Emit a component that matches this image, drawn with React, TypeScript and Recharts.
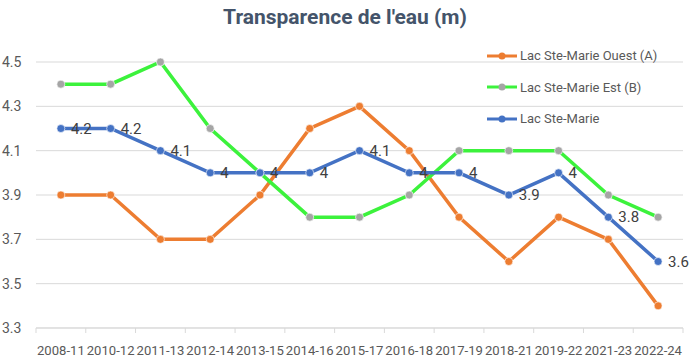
import { LineChart, Line, XAxis, YAxis, CartesianGrid, LabelList } from 'recharts';

const periods = [
	'2008-11', '2010-12', '2011-13', '2012-14', '2013-15', '2014-16', '2015-17',
	'2016-18', '2017-19', '2018-21', '2019-22', '2021-23', '2022-24',
];
const ouestA = [3.9, 3.9, 3.7, 3.7, 3.9, 4.2, 4.3, 4.1, 3.8, 3.6, 3.8, 3.7, 3.4];
const estB = [4.4, 4.4, 4.5, 4.2, 4.0, 3.8, 3.8, 3.9, 4.1, 4.1, 4.1, 3.9, 3.8];
const steMarie = [4.2, 4.2, 4.1, 4.0, 4.0, 4.0, 4.1, 4.0, 4.0, 3.9, 4.0, 3.8, 3.6];
const yTicks = [3.3, 3.5, 3.7, 3.9, 4.1, 4.3, 4.5];

const data = periods.map((p, i) => ({ period: p, a: ouestA[i], b: estB[i], m: steMarie[i] }));

const FONT = 'Roboto, "Noto Sans", sans-serif';
const TEXT = '#595959';
const BAND = 647 / periods.length;

const series = [
	{ key: 'a', name: 'Lac Ste-Marie Ouest (A)', line: '#ED7D31', dot: '#ED7D31' },
	{ key: 'b', name: 'Lac Ste-Marie Est (B)', line: '#3CF23C', dot: '#A5A5A5' },
	{ key: 'm', name: 'Lac Ste-Marie', line: '#4472C4', dot: '#4472C4' },
];

function XTick({ x, y, payload, index }: any) {
	const half = BAND / 2;
	return (
		<g>
			<line x1={x - half} x2={x - half} y1={y - 8} y2={y - 3} stroke="#D9D9D9" />
			{index === periods.length - 1 && (
				<line x1={x + half} x2={x + half} y1={y - 8} y2={y - 3} stroke="#D9D9D9" />
			)}
			<text
				x={x}
				y={y + 19}
				textAnchor="middle"
				fill={TEXT}
				fontSize={13}
				fontFamily={FONT}
				textLength={BAND - 2}
				lengthAdjust="spacingAndGlyphs"
			>
				{payload.value}
			</text>
		</g>
	);
}

function YTick({ y, payload }: any) {
	return (
		<text x={2} y={y + 5} fill={TEXT} fontSize={14} fontFamily={FONT}>
			{payload.value.toFixed(1)}
		</text>
	);
}

function LegendBox() {
	return (
		<div style={{ fontFamily: FONT, fontSize: 13, color: TEXT }}>
			{series.map((s) => (
				<div key={s.key} style={{ display: 'flex', alignItems: 'center', height: 31.5 }}>
					<svg width={34} height={10}>
						<line x1={1} x2={31} y1={5} y2={5} stroke={s.line} strokeWidth={3} />
						<circle cx={16} cy={5} r={3.5} fill={s.dot} />
					</svg>
					<span>{s.name}</span>
				</div>
			))}
		</div>
	);
}

export default function App() {
	return (
		<div style={{ position: 'absolute', left: 0, top: 0, width: 690, height: 360, background: '#fff' }}>
			<div
				style={{
					position: 'absolute',
					left: 0,
					top: 5,
					width: 690,
					textAlign: 'center',
					fontFamily: FONT,
					fontWeight: 700,
					fontSize: 21,
					color: '#44546A',
				}}
			>
				Transparence de l'eau (m)
			</div>
			<LineChart width={690} height={360} data={data} margin={{ top: 62, right: 7, bottom: 0, left: 0 }}>
				<CartesianGrid vertical={false} stroke="#D9D9D9" />
				<XAxis
					dataKey="period"
					interval={0}
					height={32}
					padding={{ left: BAND / 2, right: BAND / 2 }}
					tickLine={false}
					axisLine={{ stroke: '#D9D9D9' }}
					tick={<XTick />}
				/>
				<YAxis
					width={36}
					domain={[3.3, 4.5]}
					ticks={yTicks}
					axisLine={false}
					tickLine={false}
					tick={<YTick />}
				/>
				{series.map((s) => (
					<Line
						key={s.key}
						dataKey={s.key}
						name={s.name}
						stroke={s.line}
						strokeWidth={3.5}
						dot={{ r: 4, fill: s.dot, stroke: '#fff', strokeOpacity: 0.6, strokeWidth: 1 }}
						activeDot={false}
						isAnimationActive={false}
					>
						{s.key === 'm' && (
							<LabelList dataKey="m" position="right" offset={10} fill="#404040" fontSize={15} fontFamily={FONT} />
						)}
					</Line>
				))}
			</LineChart>
			<div style={{ position: 'absolute', left: 486, top: 40 }}>
				<LegendBox />
			</div>
		</div>
	);
}
